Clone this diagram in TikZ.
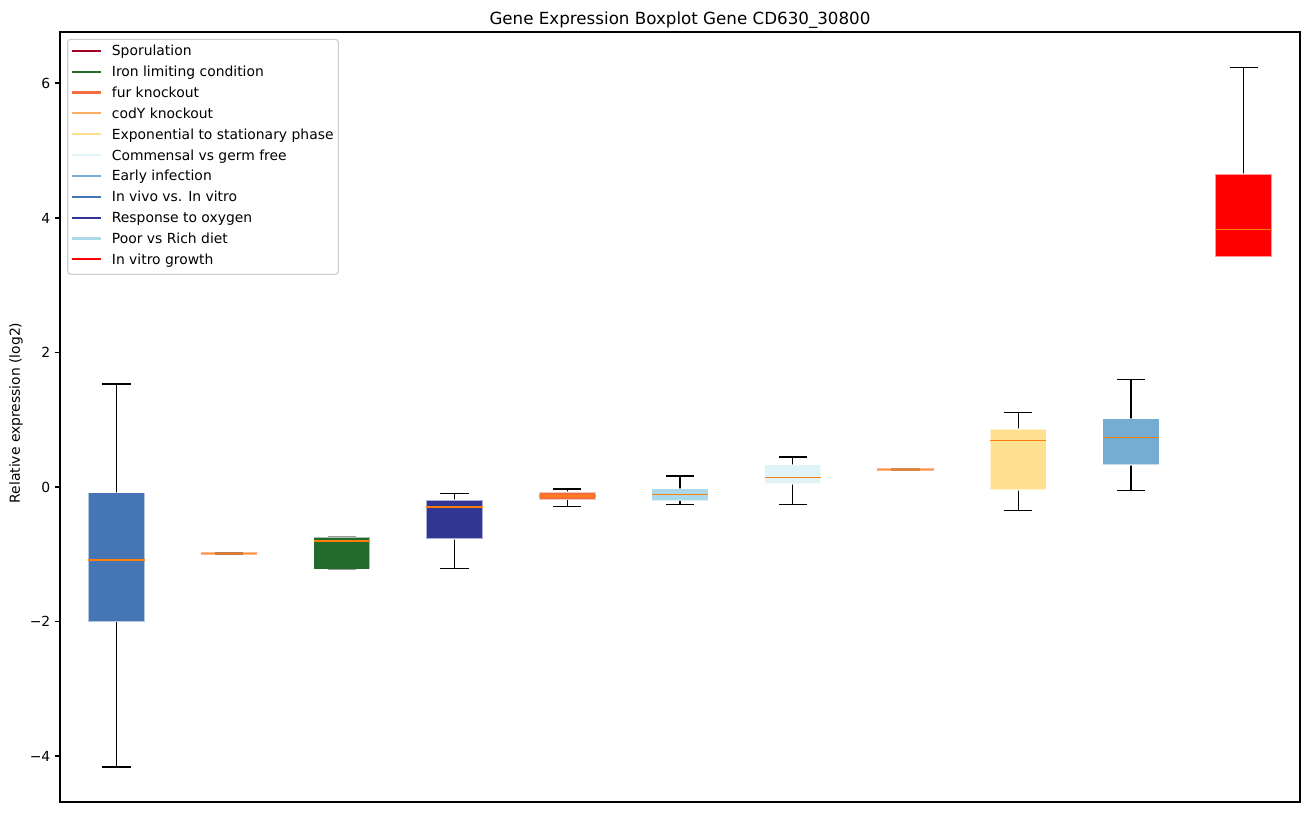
\documentclass[tikz,border=0pt]{standalone}
\usepackage{fontspec}
\setmainfont{DejaVu Sans}
\definecolor{cSpor}{HTML}{A50026}
\definecolor{cIron}{HTML}{236B2B}
\definecolor{cFur}{HTML}{F46D43}
\definecolor{cCody}{HTML}{FDAE61}
\definecolor{cExpo}{HTML}{FEE090}
\definecolor{cComm}{HTML}{E0F3F8}
\definecolor{cEarly}{HTML}{74ADD1}
\definecolor{cVivo}{HTML}{4575B4}
\definecolor{cOxy}{HTML}{313695}
\definecolor{cPoor}{HTML}{ABD9E9}
\definecolor{cVitro}{HTML}{FF0000}
\definecolor{cMed}{HTML}{FF7F0E}
\definecolor{cLeg}{HTML}{CCCCCC}
\definecolor{cFlatOut}{RGB}{249,186,148}
\definecolor{cFlatA}{RGB}{194,122,76}
\definecolor{cFlatB}{RGB}{205,138,82}
\tikzset{
  wsk/.style={line width=1.39pt,black},
  medl/.style={line width=1.39pt,cMed},
  boxedge/.style={draw=white,draw opacity=0.6,line width=1.2pt},
  legline/.style={line width=2.1pt},
  legtext/.style={anchor=base west,inner sep=0pt,font=\fontsize{13.9pt}{16pt}\selectfont},
  ticklab/.style={anchor=base east,inner sep=0pt,font=\fontsize{13.9pt}{16pt}\selectfont},
}
\newcommand\bxplot[7]{% center, colour, hi cap, q3, median, q1, lo cap
  \draw[wsk] (#1,#4) -- (#1,#3);
  \draw[wsk] (#1-14.1,#3) -- (#1+14.1,#3);
  \draw[wsk] (#1,#6) -- (#1,#7);
  \draw[wsk] (#1-14.1,#7) -- (#1+14.1,#7);
  \fill[#2] (#1-28.2,#4) rectangle (#1+28.2,#6);
  \draw[boxedge] (#1-28.2,#4) rectangle (#1+28.2,#6);
  \draw[medl] (#1-28.2,#5) -- (#1+28.2,#5);
}
\newcommand\flatbox[3]{% center, y, middle colour
  \draw[line width=3pt,cFlatOut] (#1-28.2,#2) -- (#1+28.2,#2);
  \draw[line width=3pt,#3] (#1-14.1,#2) -- (#1+14.1,#2);
  \draw[line width=1.2pt,cMed,opacity=0.7] (#1-28.2,#2) -- (#1+28.2,#2);
}
\begin{document}
\begin{tikzpicture}[x=1pt,y=-1pt]
\useasboundingbox (0,0) rectangle (1309,812);
\fill[white] (0,0) rectangle (1309,812);

% boxes
\bxplot{116.4}{cVivo}{384}{492.7}{560}{621.7}{767}
\flatbox{229.1}{553.3}{cFlatA}
\bxplot{341.8}{cIron}{537}{537}{541}{569.3}{569.3}
\bxplot{454.5}{cOxy}{493.3}{500}{507}{539}{568.3}
\bxplot{567.3}{cFur}{489}{492}{496}{499.5}{506.2}
\bxplot{680}{cPoor}{476}{488.7}{494.3}{500.7}{504.3}
\bxplot{792.7}{cComm}{457}{464.7}{477.3}{484}{504.3}
\flatbox{905.5}{469.3}{cFlatB}
\bxplot{1018.2}{cExpo}{412.3}{429}{440.3}{490}{510.3}
\bxplot{1130.9}{cEarly}{379.3}{418.7}{437.3}{465}{490.3}
\bxplot{1243.6}{cVitro}{67.3}{174}{229.3}{256.7}{256.7}

% axes frame
\draw[line width=1.1pt] (60,32) rectangle (1300,802);

% y ticks
\foreach \v/\yy/\nm in {6/83/t6,4/218/t4,2/352.5/t2,0/487/t0,{−2}/621.5/tm2,{−4}/756/tm4}{
  \draw[line width=1.1pt] (55,\yy) -- (60,\yy);
  \node[ticklab] (\nm) at (50.5,\yy+5) {\v};
}

% title and axis label
\node[anchor=base,inner sep=0pt,font=\fontsize{16.7pt}{19pt}\selectfont] (title) at (680,24.5) {Gene Expression Boxplot Gene CD630\_30800};
\node[rotate=90,inner sep=0pt,font=\fontsize{13.9pt}{16pt}\selectfont] (ylab) at (16,413) {Relative expression (log2)};

% legend
\draw[draw=cLeg,fill=white,fill opacity=0.8,line width=1.1pt,rounded corners=3pt] (67.7,39.3) rectangle (338.3,274.3);
\foreach \yy/\col/\txt/\nm in {
  50.7/cSpor/Sporulation/l1,
  71.6/cIron/Iron limiting condition/l2,
  92.5/cFur/fur knockout/l3,
  113.3/cCody/codY knockout/l4,
  134.2/cExpo/Exponential to stationary phase/l5,
  155.1/cComm/Commensal vs germ free/l6,
  175.9/cEarly/Early infection/l7,
  196.8/cVivo/In vivo vs. In vitro/l8,
  217.7/cOxy/Response to oxygen/l9,
  238.5/cPoor/Poor vs Rich diet/l10,
  259.4/cVitro/In vitro growth/l11}{
  \draw[legline,\col] (71.7,\yy) -- (100.7,\yy);
  \node[legtext] (\nm) at (111.7,\yy+5) {\txt};
}
\end{tikzpicture}
\end{document}
